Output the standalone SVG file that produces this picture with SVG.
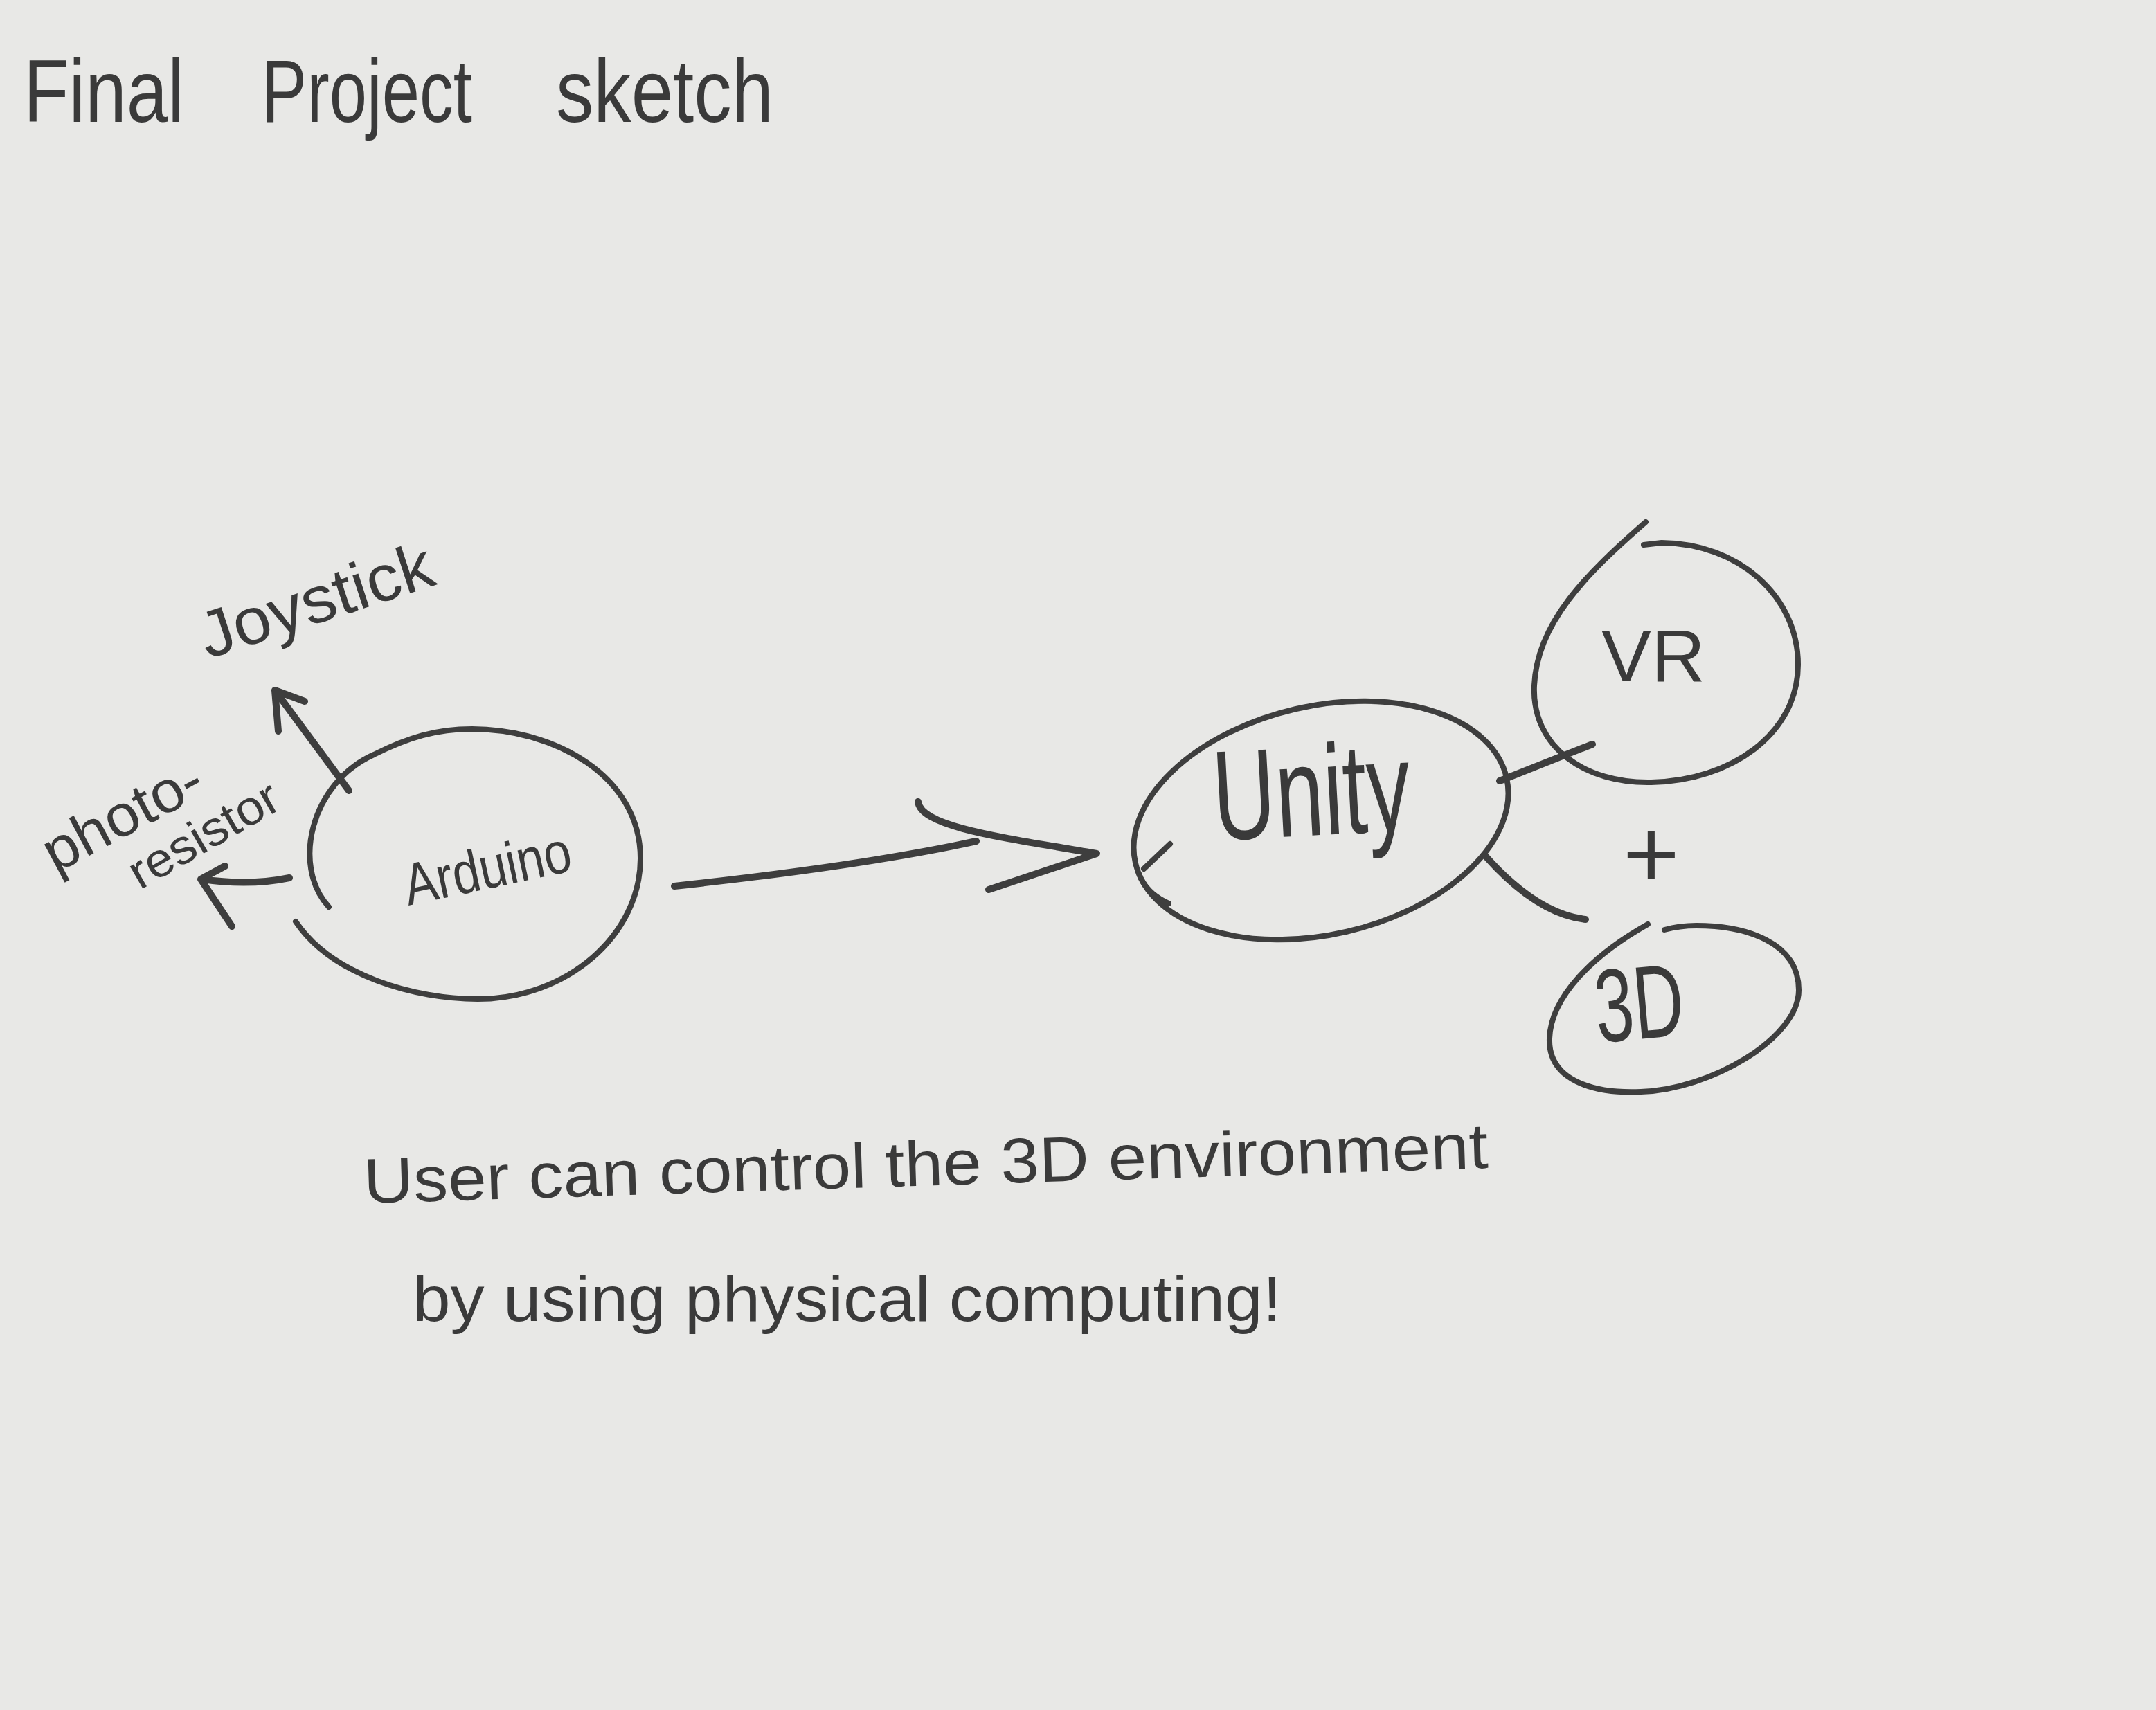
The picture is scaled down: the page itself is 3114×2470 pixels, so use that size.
<svg xmlns="http://www.w3.org/2000/svg" width="3114" height="2470" viewBox="0 0 3114 2470">
<style>
.ink{fill:none;stroke:#3e3e3e;stroke-width:10;stroke-linecap:round;stroke-linejoin:round}
.thin{stroke-width:8}
.t{font-family:"Liberation Sans","DejaVu Sans",sans-serif;fill:#3a3a3a}
</style>
<rect width="3114" height="2470" fill="#e8e8e6"/>
<g id="title">
<text class="t" y="176" font-size="128" lengthAdjust="spacingAndGlyphs"><tspan x="34" textLength="232" lengthAdjust="spacingAndGlyphs">Final</tspan><tspan x="378" textLength="304" lengthAdjust="spacingAndGlyphs">Project</tspan><tspan x="803" textLength="314" lengthAdjust="spacingAndGlyphs">sketch</tspan></text>
</g>
<g id="node-joystick">
<text class="t" x="300" y="952" font-size="95" textLength="350" lengthAdjust="spacingAndGlyphs" transform="rotate(-18 300 952)">Joystick</text>
</g>
<g id="node-photoresistor">
<text class="t" x="80" y="1262" font-size="85" textLength="250" lengthAdjust="spacingAndGlyphs" transform="rotate(-28 80 1262)">photo-</text>
<text class="t" x="202" y="1286" font-size="70" textLength="240" lengthAdjust="spacingAndGlyphs" transform="rotate(-30 202 1286)">resistor</text>
</g>
<g id="node-arduino">
<path class="ink thin" d="M475 1310 C420 1250 450 1130 540 1090 C590 1065 630 1053 682 1053 C800 1053 925 1120 925 1240 C925 1350 820 1443 690 1443 C600 1443 480 1410 427 1331"/>
<text class="t" x="590" y="1308" font-size="85" textLength="245" lengthAdjust="spacingAndGlyphs" transform="rotate(-12 590 1308)">Arduino</text>
</g>
<g id="node-unity">
<ellipse class="ink thin" cx="1908" cy="1185" rx="275" ry="165" transform="rotate(-13 1908 1185)"/>
<path class="ink thin" d="M1690 1219 L1652 1255 M1645 1262 Q1655 1290 1688 1305"/>
<text class="t" x="1755" y="1214" font-size="185" textLength="285" lengthAdjust="spacingAndGlyphs" transform="rotate(-3 1755 1214)">Unity</text>
</g>
<g id="node-vr">
<path class="ink thin" d="M2377 754 C2290 830 2220 900 2216 990 C2212 1080 2290 1132 2385 1130 C2500 1128 2597 1060 2597 960 C2597 860 2510 785 2400 784 L2374 787"/>
<text class="t" x="2313" y="984" font-size="105" textLength="150" lengthAdjust="spacingAndGlyphs">VR</text>
</g>
<g id="plus">
<text class="t" x="2385" y="1281" font-size="140" text-anchor="middle">+</text>
</g>
<g id="node-3d">
<path class="ink thin" d="M2380 1335 C2300 1380 2240 1440 2238 1500 C2236 1560 2300 1580 2370 1577 C2470 1574 2598 1500 2598 1430 C2598 1360 2520 1337 2450 1337 C2430 1337 2415 1340 2404 1343"/>
<text class="t" x="2308" y="1506" font-size="150" textLength="128" lengthAdjust="spacingAndGlyphs" transform="rotate(-5 2308 1506)">3D</text>
</g>
<g id="connectors">
<path class="ink" d="M504 1142 L397 997 M402 1056 L397 997 L440 1013"/>
<path class="ink" d="M418 1268 Q360 1280 292 1270 M325 1251 L290 1270 L335 1338"/>
<path class="ink" d="M974 1280 Q1250 1250 1410 1215"/>
<path class="ink" d="M1326 1158 C1330 1195 1450 1210 1584 1233 L1428 1285"/>
<path class="ink" d="M2166 1128 L2300 1075"/>
<path class="ink" d="M2146 1237 Q2220 1320 2290 1328"/>
</g>
<g id="caption">
<text class="t" x="526" y="1738" font-size="92" textLength="1625" lengthAdjust="spacingAndGlyphs" transform="rotate(-1.8 526 1738)">User can control the 3D environment</text>
<text class="t" x="596" y="1908" font-size="92" textLength="1255" lengthAdjust="spacingAndGlyphs">by using physical computing!</text>
</g>
</svg>
